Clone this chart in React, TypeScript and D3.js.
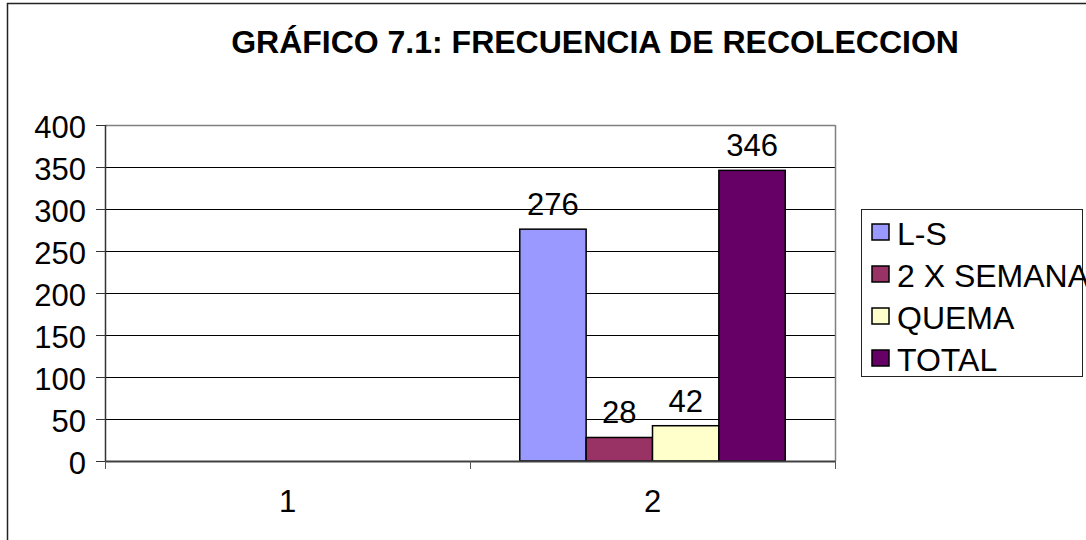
import React from "react";
import * as d3 from "d3";

const categories = ["1", "2"];
const seriesNames = ["L-S", "2 X SEMANA", "QUEMA", "TOTAL"];
const lsValues: (number | null)[] = [null, 276];
const dosXSemanaValues: (number | null)[] = [null, 28];
const quemaValues: (number | null)[] = [null, 42];
const totalValues: (number | null)[] = [null, 346];
const seriesColors = ["#9999FF", "#993366", "#FFFFCC", "#660066"];
const yTicks = [0, 50, 100, 150, 200, 250, 300, 350, 400];
const title = "GRÁFICO 7.1: FRECUENCIA DE RECOLECCION";

const W = 1086;
const H = 540;
const plot = { left: 105, right: 835, top: 125, bottom: 461 };
const FONT = "Arial, 'Liberation Sans', Helvetica, sans-serif";

export default function App() {
  const seriesValues = [lsValues, dosXSemanaValues, quemaValues, totalValues];
  const x = d3.scaleBand<string>().domain(categories).range([plot.left, plot.right]).padding(0);
  const xs = d3.scaleBand<string>().domain(seriesNames).range([0, x.bandwidth()]).paddingInner(0).paddingOuter(0.75);
  const y = d3.scaleLinear().domain([0, 400]).range([plot.bottom, plot.top]);
  const xBoundaries = [...categories.map((c) => x(c) as number), plot.right];

  return (
    <svg width={W} height={H} style={{ position: "absolute", left: 0, top: 0, background: "#fff" }} fontFamily={FONT}>
      <rect x={0} y={0} width={W} height={H} fill="#fff" />
      {/* outer chart border */}
      <rect x={7.5} y={3.5} width={W + 20} height={H + 20} fill="none" stroke="#222" strokeWidth={1.5} />
      <text x={595} y={53} textAnchor="middle" fontSize={32} fontWeight="bold" fill="#000">
        {title}
      </text>

      {/* gridlines */}
      {yTicks.filter((t) => t > 0 && t < 400).map((t) => (
        <line key={t} x1={plot.left} x2={plot.right} y1={Math.round(y(t)) + 0.5} y2={Math.round(y(t)) + 0.5} stroke="#000" strokeWidth={1} />
      ))}
      {/* plot area border (top, right) */}
      <line x1={plot.left} x2={plot.right} y1={plot.top + 0.5} y2={plot.top + 0.5} stroke="#808080" strokeWidth={1.5} />
      <line x1={plot.right + 0.5} x2={plot.right + 0.5} y1={plot.top} y2={plot.bottom} stroke="#808080" strokeWidth={1.5} />

      {/* bars */}
      {categories.map((c, ci) =>
        seriesNames.map((s, si) => {
          const v = seriesValues[si][ci];
          if (v == null) return null;
          const bx = (x(c) as number) + (xs(s) as number);
          return (
            <g key={c + s}>
              <rect x={bx} y={y(v)} width={xs.bandwidth()} height={y(0) - y(v)} fill={seriesColors[si]} stroke="#000" strokeWidth={1.5} />
              <text x={bx + xs.bandwidth() / 2} y={y(v) - 14} textAnchor="middle" fontSize={31} fill="#000">
                {v}
              </text>
            </g>
          );
        })
      )}

      {/* axes */}
      <line x1={plot.left + 0.5} x2={plot.left + 0.5} y1={plot.top} y2={plot.bottom} stroke="#333" strokeWidth={1.5} />
      <line x1={plot.left} x2={plot.right} y1={plot.bottom + 0.5} y2={plot.bottom + 0.5} stroke="#404040" strokeWidth={2} />
      {yTicks.map((t) => (
        <g key={"yt" + t}>
          <line x1={96} x2={plot.left} y1={Math.round(y(t)) + 0.5} y2={Math.round(y(t)) + 0.5} stroke="#333" strokeWidth={1} />
          <text x={86} y={y(t) + 13} textAnchor="end" fontSize={31} fill="#000">
            {t}
          </text>
        </g>
      ))}
      {xBoundaries.map((bx, i) => (
        <line key={"xt" + i} x1={bx + 0.5} x2={bx + 0.5} y1={plot.bottom} y2={plot.bottom + 8} stroke="#555" strokeWidth={1} />
      ))}
      {categories.map((c) => (
        <text key={"xl" + c} x={(x(c) as number) + x.bandwidth() / 2} y={512} textAnchor="middle" fontSize={31} fill="#000">
          {c}
        </text>
      ))}

      {/* legend */}
      <rect x={861.5} y={209.5} width={221} height={167} fill="#fff" stroke="#222" strokeWidth={1} />
      {seriesNames.map((s, i) => {
        const cy = 232 + i * 42;
        return (
          <g key={"lg" + s}>
            <rect x={872} y={cy - 8} width={17} height={16} fill={seriesColors[i]} stroke="#000" strokeWidth={1.5} />
            <text x={897} y={cy + 13} fontSize={32} fill="#000">
              {s}
            </text>
          </g>
        );
      })}
    </svg>
  );
}
